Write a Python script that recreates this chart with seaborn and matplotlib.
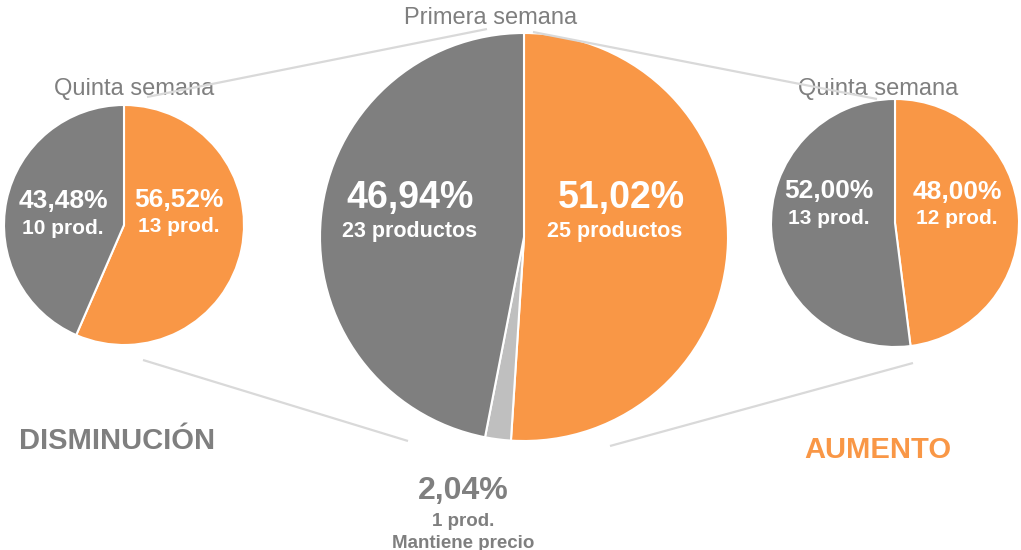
import matplotlib
matplotlib.use("Agg")
import matplotlib.pyplot as plt
import seaborn as sns

sns.set_theme(style="white")
plt.rcParams['font.family'] = ['Liberation Sans', 'DejaVu Sans']

# ---- data ----
left_labels = ["Aumento", "Disminución"]
left_values = [56.52, 43.48]
left_counts = [13, 10]

center_labels = ["Aumento", "Mantiene precio", "Disminución"]
center_values = [51.02, 2.04, 46.94]
center_counts = [25, 1, 23]

right_labels = ["Aumento", "Disminución"]
right_values = [48.00, 52.00]
right_counts = [12, 13]

ORANGE = "#F99746"
GRAY = "#7F7F7F"
LIGHT = "#BFBFBF"
TXT_GRAY = "#7F7F7F"
LINE = "#D9D9D9"

W, H = 1021, 550
fig = plt.figure(figsize=(W / 100, H / 100), dpi=100)
ax = fig.add_axes([0, 0, 1, 1])
ax.set_xlim(0, W)
ax.set_ylim(0, H)
ax.set_aspect("equal")
ax.axis("off")


def Y(py):
    return H - py


def fmt(v):
    return f"{v:.2f}%".replace(".", ",")


wp = dict(edgecolor="white", linewidth=1.5)

# pies
ax.pie(left_values, colors=[ORANGE, GRAY], startangle=90, counterclock=False,
       center=(124, Y(225)), radius=120, wedgeprops=wp, frame=True)
ax.pie(center_values, colors=[ORANGE, LIGHT, GRAY], startangle=90, counterclock=False,
       center=(524, Y(237)), radius=204, wedgeprops=wp, frame=True)
ax.pie(right_values, colors=[ORANGE, GRAY], startangle=90, counterclock=False,
       center=(895, Y(223)), radius=124, wedgeprops=wp, frame=True)
ax.set_xlim(0, W)
ax.set_ylim(0, H)
ax.axis("off")

# connector lines
for (x0, y0), (x1, y1) in [((147, 97), (487, 29)), ((533, 32), (877, 99)),
                           ((143, 360), (408, 441)), ((610, 446), (913, 363))]:
    ax.plot([x0, x1], [Y(y0), Y(y1)], color=LINE, lw=1.6, zorder=5,
            solid_capstyle="butt")

# titles
ax.text(491, Y(18), "Primera semana", ha="center", va="center", fontsize=17, color=TXT_GRAY, zorder=6)
ax.text(134, Y(89), "Quinta semana", ha="center", va="center", fontsize=17, color=TXT_GRAY, zorder=4)
ax.text(878, Y(89), "Quinta semana", ha="center", va="center", fontsize=17, color=TXT_GRAY, zorder=4)

# left pie labels
ax.text(179, Y(200), fmt(left_values[0]), ha="center", va="center", fontsize=19, weight="bold", color="white")
ax.text(179, Y(227), f"{left_counts[0]} prod.", ha="center", va="center", fontsize=15, weight="bold", color="white")
ax.text(63, Y(201), fmt(left_values[1]), ha="center", va="center", fontsize=19, weight="bold", color="white")
ax.text(63, Y(228), f"{left_counts[1]} prod.", ha="center", va="center", fontsize=15, weight="bold", color="white")

# center pie labels
ax.text(621, Y(198), fmt(center_values[0]), ha="center", va="center", fontsize=27, weight="bold", color="white")
ax.text(615, Y(231), f"{center_counts[0]} productos", ha="center", va="center", fontsize=15.5, weight="bold", color="white")
ax.text(410, Y(198), fmt(center_values[2]), ha="center", va="center", fontsize=27, weight="bold", color="white")
ax.text(410, Y(231), f"{center_counts[2]} productos", ha="center", va="center", fontsize=15.5, weight="bold", color="white")
ax.text(463, Y(491), fmt(center_values[1]), ha="center", va="center", fontsize=23, weight="bold", color=TXT_GRAY)
ax.text(463, Y(521), f"{center_counts[1]} prod.", ha="center", va="center", fontsize=13.5, weight="bold", color=TXT_GRAY)
ax.text(463, Y(543), center_labels[1], ha="center", va="center", fontsize=13.5, weight="bold", color=TXT_GRAY)

# right pie labels
ax.text(957, Y(192), fmt(right_values[0]), ha="center", va="center", fontsize=19, weight="bold", color="white")
ax.text(957, Y(219), f"{right_counts[0]} prod.", ha="center", va="center", fontsize=15, weight="bold", color="white")
ax.text(829, Y(191), fmt(right_values[1]), ha="center", va="center", fontsize=19, weight="bold", color="white")
ax.text(829, Y(218), f"{right_counts[1]} prod.", ha="center", va="center", fontsize=15, weight="bold", color="white")

# side headings
ax.text(117, Y(441), "DISMINUCIÓN", ha="center", va="center", fontsize=21, weight="bold", color=TXT_GRAY)
ax.text(878, Y(450), "AUMENTO", ha="center", va="center", fontsize=21, weight="bold", color=ORANGE)

fig.savefig("out.png", dpi=100, facecolor="white")
